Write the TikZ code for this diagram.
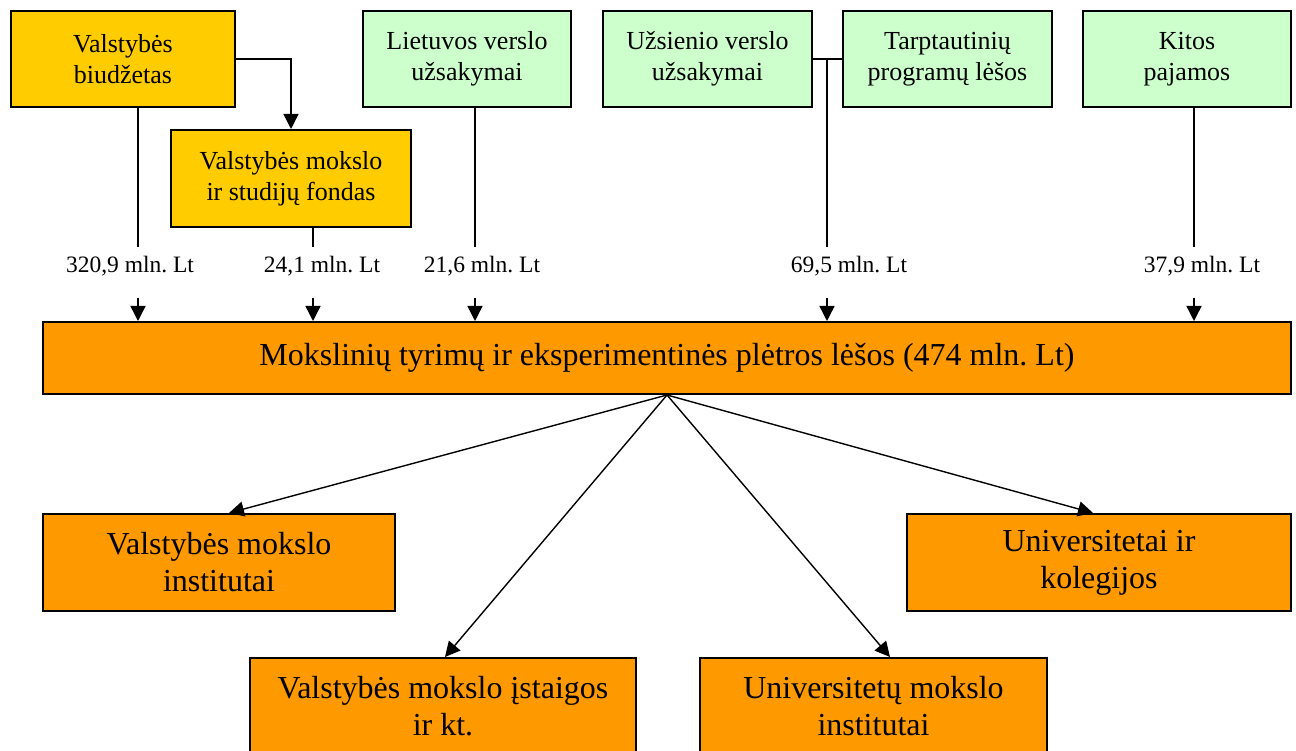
\documentclass[tikz,border=0pt]{standalone}
\usepackage{fontspec}
\setmainfont{Liberation Serif}
\usetikzlibrary{arrows.meta}
\definecolor{gold}{HTML}{FFCC00}
\definecolor{mint}{HTML}{CCFFCC}
\definecolor{amber}{HTML}{FF9900}
\frenchspacing
\begin{document}
\begin{tikzpicture}[x=1pt,y=-1pt,
  box/.style={draw=black, line width=2pt, inner sep=0pt, align=center, anchor=north west},
  fund/.style={box, fill=gold, font=\fontsize{26pt}{31pt}\selectfont},
  src/.style={box, fill=mint, font=\fontsize{26pt}{31pt}\selectfont},
  total/.style={box, fill=amber, font=\fontsize{32pt}{37pt}\selectfont},
  sink/.style={box, fill=amber, font=\fontsize{32pt}{37pt}\selectfont},
  lbl/.style={inner sep=0pt, font=\fontsize{23.5pt}{28pt}\selectfont},
  flow/.style={line width=1.4pt},
  arr/.style={flow, -{Triangle[length=15pt,width=15pt]}}]
\clip (0,0) rectangle (1296,751);

% funding sources
\node[fund, minimum width=224pt, minimum height=96pt] (b1) at (10,10) {Valstybės\\biudžetas};
\node[fund, minimum width=240pt, minimum height=97pt] (b2) at (170,129) {Valstybės mokslo\\ir studijų fondas};
\node[src, minimum width=208pt, minimum height=96pt] (b3) at (362,10) {Lietuvos verslo\\užsakymai};
\node[src, minimum width=209pt, minimum height=96pt] (b4) at (602,10) {Užsienio verslo\\užsakymai};
\node[src, minimum width=209pt, minimum height=96pt] (b5) at (842,10) {Tarptautinių\\programų lėšos};
\node[src, minimum width=208pt, minimum height=96pt] (b6) at (1082,10) {Kitos\\pajamos};

% total
\node[total, minimum width=1248pt, minimum height=72pt] (main) at (42,321)
  {Mokslinių tyrimų ir eksperimentinės plėtros lėšos (474 mln. Lt)};

% recipients
\node[sink, minimum width=352pt, minimum height=97pt] (r1) at (42,513) {Valstybės mokslo\\institutai};
\node[sink, minimum width=384pt, minimum height=97pt] (r2) at (906,513) {Universitetai ir\\kolegijos};
\node[sink, minimum width=386pt, minimum height=97pt] (r3) at (249,657) {Valstybės mokslo įstaigos\\ir kt.};
\node[sink, minimum width=347pt, minimum height=97pt] (r4) at (699,657) {Universitetų mokslo\\institutai};

% amounts
\node[lbl] (l1) at (130,266) {320,9 mln. Lt};
\node[lbl] (l2) at (322,266) {24,1 mln. Lt};
\node[lbl] (l3) at (482,266) {21,6 mln. Lt};
\node[lbl] (l4) at (849,266) {69,5 mln. Lt};
\node[lbl] (l6) at (1202,266) {37,9 mln. Lt};

% drop points above and below the amounts
\coordinate (d1) at (138,247);  \coordinate (a1) at (138,298);
\coordinate (d2) at (313,247);  \coordinate (a2) at (313,298);
\coordinate (d3) at (475,247);  \coordinate (a3) at (475,298);
\coordinate (d4) at (827,247);  \coordinate (a4) at (827,298);
\coordinate (d6) at (1194,247); \coordinate (a6) at (1194,298);

% budget to fund
\draw[arr] (b1.east) -| (b2.north);

% source lines
\draw[flow] (b1.south -| d1) -- (d1);
\draw[flow] (b2.south -| d2) -- (d2);
\draw[flow] (b3.south -| d3) -- (d3);
\draw[flow] (b4.east) -- (b5.west);
\draw[flow] (b4.east -| d4) -- (d4);
\draw[flow] (b6.south -| d6) -- (d6);

\draw[arr] (a1) -- (main.north -| a1);
\draw[arr] (a2) -- (main.north -| a2);
\draw[arr] (a3) -- (main.north -| a3);
\draw[arr] (a4) -- (main.north -| a4);
\draw[arr] (a6) -- (main.north -| a6);

% distribution
\draw[arr] (main.south) -- ([xshift=10pt]r1.north);
\draw[arr] (main.south) -- ([xshift=2pt]r3.north);
\draw[arr] (main.south) -- ([xshift=16.5pt]r4.north);
\draw[arr] (main.south) -- ([xshift=-6pt]r2.north);
\end{tikzpicture}
\end{document}
